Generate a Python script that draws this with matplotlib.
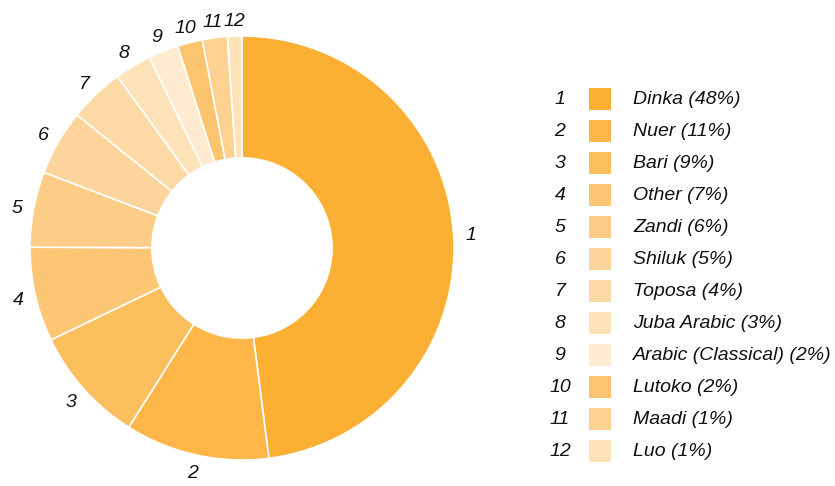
import matplotlib
matplotlib.use("Agg")
import matplotlib.pyplot as plt
from matplotlib.patches import Rectangle

# datos del grafico
idiomas = ["Dinka", "Nuer", "Bari", "Other", "Zandi", "Shiluk", "Toposa",
           "Juba Arabic", "Arabic (Classical)", "Lutoko", "Maadi", "Luo"]
# tamaño de cada porcion
valores = [48.0, 11.0, 8.9, 7.2, 5.75, 5.0, 4.2, 2.8, 2.3, 1.9, 1.9, 1.1]
# porcentaje que muestra la leyenda
porcentajes = [48, 11, 9, 7, 6, 5, 4, 3, 2, 2, 1, 1]
colores = ["#FBB034", "#FCB748", "#FCBF5E", "#FDC674", "#FDCD88", "#FDD49B",
           "#FDD9A6", "#FEE2B8", "#FEEBD0", "#FDC46F", "#FDD190", "#FEE3B9"]
numeros = [str(i + 1) for i in range(len(idiomas))]

plt.rcParams['font.family'] = ['Liberation Sans', 'DejaVu Sans']

W, H = 835, 486
fig = plt.figure(figsize=(W / 100, H / 100), dpi=100)

# ejes del donut: centro (242, 248) px, radio ~212 px
cx, cy, R = 242, 248, 212
lim = 1.25
lado = 2 * lim * R
ax = fig.add_axes([(cx - lado / 2) / W, (H - cy - lado / 2) / H, lado / W, lado / H])
ax.set_xlim(-lim, lim)
ax.set_ylim(-lim, lim)
ax.set_aspect('equal')
ax.axis('off')

wedges, textos = ax.pie(valores, colors=colores, labels=numeros,
                        startangle=90, counterclock=False, radius=1,
                        labeldistance=1.08,
                        wedgeprops=dict(width=0.575, edgecolor='white', linewidth=1.2),
                        textprops=dict(fontsize=14, style='italic', color='#111111'))
for t in textos:
    t.set_ha('center')
    t.set_va('center_baseline')

# leyenda manual
y0 = 99
paso = 32
for i, (nombre, pct, col) in enumerate(zip(idiomas, porcentajes, colores)):
    y = y0 + i * paso
    fig.text(560 / W, 1 - y / H, numeros[i], ha='center', va='center',
             fontsize=14, style='italic', color='#111111')
    fig.patches.append(Rectangle((589 / W, 1 - (y + 11) / H), 22 / W, 22 / H,
                                 transform=fig.transFigure, facecolor=col,
                                 edgecolor='none'))
    fig.text(633 / W, 1 - y / H, f"{nombre} ({pct}%)", ha='left', va='center',
             fontsize=14, style='italic', color='#111111')

fig.savefig("out.png", dpi=100)
